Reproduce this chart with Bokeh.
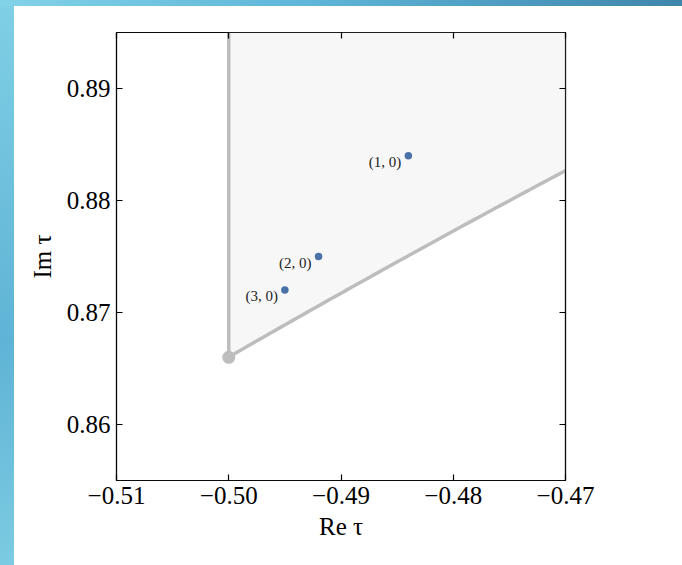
import numpy as np
from bokeh.plotting import figure
from bokeh.models import ColumnDataSource, LinearAxis, FixedTicker, Div, Range1d
from bokeh.layouts import column, row
from bokeh.core.properties import value
from bokeh.embed import file_html
from bokeh.resources import INLINE

# ---- data ----
point_labels = ["(1, 0)", "(2, 0)", "(3, 0)"]
re_tau = [-0.484, -0.492, -0.495]
im_tau = [0.884, 0.875, 0.872]
corner_re = [-0.5]
corner_im = [0.8660]
x_ticks = [-0.51, -0.50, -0.49, -0.48, -0.47]
x_tick_labels = ["\u22120.51", "\u22120.50", "\u22120.49", "\u22120.48", "\u22120.47"]
y_ticks = [0.86, 0.87, 0.88, 0.89]
y_tick_labels = ["0.86", "0.87", "0.88", "0.89"]
x_lim = [-0.51, -0.47]
y_lim = [0.855, 0.895]

FONT = "Liberation Serif"

p = figure(width=668, height=559, output_backend="svg", toolbar_location=None,
           x_range=Range1d(*x_lim), y_range=Range1d(*y_lim),
           min_border_left=102, min_border_top=26, min_border_right=117, min_border_bottom=85,
           x_axis_label="Re \u03c4", y_axis_label="Im \u03c4", margin=0)
p.xgrid.visible = False
p.ygrid.visible = False
p.outline_line_color = "black"
p.outline_line_width = 1.2
p.outline_line_alpha = 0.8

# fundamental-domain boundary (unit circle arc and Re = -1/2 line)
arc_re = np.linspace(corner_re[0], x_lim[1] + 0.002, 80)
arc_im = np.sqrt(1.0 - arc_re ** 2)
poly_x = list(arc_re) + [x_lim[1] + 0.002, corner_re[0]]
poly_y = list(arc_im) + [y_lim[1] + 0.01, y_lim[1] + 0.01]
p.patch(poly_x, poly_y, fill_color="#f7f7f7", line_color=None)
p.line(arc_re, arc_im, line_color="#bdbdbd", line_width=3.5)
p.line([corner_re[0], corner_re[0]], [corner_im[0], y_lim[1] + 0.01], line_color="#bdbdbd", line_width=3.5)
p.scatter(corner_re, corner_im, size=13, fill_color="#bdbdbd", line_color=None)

src = ColumnDataSource(dict(x=re_tau, y=im_tau, label=point_labels))
p.scatter("x", "y", source=src, size=7.5, fill_color="#4a72a8", line_color=None)
p.text("x", "y", text="label", source=src, x_offset=-7, y_offset=6,
       text_align="right", text_baseline="middle", text_font=value(FONT),
       text_font_size="15px", text_color="#222222")

def style_axis(ax, ticks, labels, show_labels=True):
    ax.ticker = FixedTicker(ticks=ticks)
    ax.major_tick_in = 6
    ax.major_tick_out = 0
    ax.minor_tick_in = 0
    ax.minor_tick_out = 0
    ax.axis_line_color = "black"
    ax.axis_line_width = 1.2
    ax.axis_line_alpha = 0.8
    ax.major_tick_line_color = "black"
    ax.major_tick_line_width = 1.2
    ax.major_label_text_font = FONT
    ax.major_label_text_font_size = "25px"
    ax.major_label_text_color = "black"
    ax.axis_label_text_font = FONT
    ax.axis_label_text_font_size = "25px"
    ax.axis_label_text_font_style = "normal"
    ax.axis_label_text_color = "black"
    if show_labels:
        ax.major_label_overrides = {t: l for t, l in zip(ticks, labels)}
    else:
        ax.major_label_overrides = {t: "" for t in ticks}
        ax.major_label_standoff = 0

style_axis(p.xaxis[0], x_ticks, x_tick_labels)
style_axis(p.yaxis[0], y_ticks, y_tick_labels)
p.xaxis[0].major_label_standoff = 6
p.yaxis[0].major_label_standoff = 6
p.xaxis[0].axis_label_standoff = 6
p.yaxis[0].axis_label_standoff = 8

top_ax = LinearAxis()
style_axis(top_ax, x_ticks, x_tick_labels, show_labels=False)
p.add_layout(top_ax, "above")
right_ax = LinearAxis()
style_axis(right_ax, y_ticks, y_tick_labels, show_labels=False)
p.add_layout(right_ax, "right")

top_strip = Div(text="", width=682, height=6, margin=0,
                styles={"background": "linear-gradient(to right, #82d2e8, #5fb6d8 45%, #3f86ab)"})
left_strip = Div(text="", width=14, height=559, margin=0,
                 styles={"background": "linear-gradient(to bottom, #7fcfe5, #5fb3d5 60%, #7ccbe2)"})
layout = column(top_strip, row(left_strip, p, spacing=0, margin=0), spacing=0, margin=0)

open("out.html", "w").write(file_html(layout, INLINE))
